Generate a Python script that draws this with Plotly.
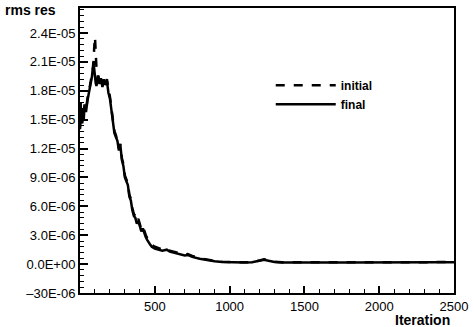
import plotly.graph_objects as go

# iterations and residuals (in units of 1E-06)
iter_early = [0, 5, 10, 15, 20, 25, 30, 40, 50, 60, 70, 80, 90, 95, 100, 105, 110, 120, 130, 140,
              150, 160, 170, 180, 190, 200, 210, 220, 230, 240, 250, 260, 270, 280, 290, 300,
              310, 320, 330, 340, 350, 360, 370, 380, 390, 400, 410, 420, 430, 440, 450, 460,
              470, 480, 490, 500, 550, 580, 600, 650, 700, 720, 750, 800, 850, 900, 950, 1000,
              1050, 1100, 1150, 1200, 1230, 1260, 1300, 1350, 1400, 1500, 1600, 1700, 1800,
              1900, 2000, 2100, 2200, 2300, 2400, 2500]

initial_res = [14.2, 16.8, 15.0, 14.8, 16.2, 15.3, 16.6, 16.0, 17.2, 17.9, 18.8, 19.8, 20.6, 22.5,
               23.6, 22.0, 20.4, 19.8, 18.9, 19.5, 18.6, 19.4, 18.8, 19.2, 18.0, 17.4, 16.2, 15.0,
               13.8, 13.4, 12.6, 12.0, 12.5, 11.0, 10.4, 9.2, 8.8, 8.4, 7.2, 6.8, 5.8, 5.2, 5.0,
               4.4, 4.7, 4.0, 3.6, 3.9, 3.3, 3.0, 2.7, 2.4, 2.2, 2.0, 1.9, 1.8, 1.5, 1.6, 1.4,
               1.2, 1.0, 1.05, 0.85, 0.62, 0.45, 0.33, 0.25, 0.2, 0.18, 0.19, 0.22, 0.38, 0.5,
               0.38, 0.24, 0.2, 0.19, 0.19, 0.2, 0.2, 0.19, 0.2, 0.2, 0.21, 0.2, 0.21, 0.2, 0.21]

final_res = [14.0, 16.5, 15.2, 14.6, 16.0, 15.0, 16.4, 15.8, 17.0, 17.8, 18.6, 19.5, 21.0, 20.2,
             19.0, 18.8, 18.5, 19.6, 18.7, 19.3, 18.4, 19.2, 18.6, 19.0, 17.8, 17.2, 16.0, 14.8,
             13.6, 13.2, 12.8, 11.8, 12.3, 10.8, 10.2, 9.0, 8.6, 8.2, 7.0, 6.6, 5.6, 5.0, 4.8,
             4.2, 4.5, 3.8, 3.4, 3.7, 3.1, 2.8, 2.5, 2.2, 2.0, 1.8, 1.7, 1.6, 1.4, 1.5, 1.3,
             1.1, 0.9, 0.95, 0.75, 0.55, 0.4, 0.3, 0.22, 0.18, 0.16, 0.17, 0.2, 0.35, 0.45,
             0.35, 0.22, 0.18, 0.17, 0.17, 0.18, 0.17, 0.18, 0.17, 0.18, 0.18, 0.19, 0.18, 0.19, 0.2]

y_tick_vals = [-3, 0, 3, 6, 9, 12, 15, 18, 21, 24]
y_tick_text = ["\u201330E-06", "0.0E+00", "3.0E-06", "6.0E-06", "9.0E-06", "1.2E-05",
               "1.5E-05", "1.8E-05", "2.1E-05", "2.4E-05"]
x_tick_vals = [500, 1000, 1500, 2000, 2500]
x_tick_text = ["500", "1000", "1500", "2000", "2500"]

FONT = "Liberation Sans, Arial, sans-serif"

fig = go.Figure()
fig.add_trace(go.Scatter(x=iter_early, y=initial_res, mode="lines", name="<b>initial</b>",
                         line=dict(color="black", width=2.5, dash="dash")))
fig.add_trace(go.Scatter(x=iter_early, y=final_res, mode="lines", name="<b>final</b>",
                         line=dict(color="black", width=2.5)))

fig.update_layout(
    width=474, height=327,
    margin=dict(l=80, r=19, t=6, b=34),
    paper_bgcolor="white", plot_bgcolor="white",
    font=dict(family=FONT, size=13, color="black"),
    showlegend=True,
    legend=dict(x=0.51, y=0.78, xanchor="left", yanchor="top",
                bgcolor="rgba(0,0,0,0)", borderwidth=0, tracegroupgap=0,
                font=dict(family=FONT, size=12, color="black"), itemwidth=60),
    xaxis=dict(range=[0, 2500], tickvals=x_tick_vals, ticktext=x_tick_text,
               ticks="inside", ticklen=7, tickwidth=2, tickcolor="black",
               showline=True, linewidth=2, linecolor="black", mirror=True,
               showgrid=False, zeroline=False,
               minor=dict(dtick=100, ticks="inside", ticklen=4, tickwidth=1, tickcolor="black")),
    yaxis=dict(range=[-3, 26.6], tickvals=y_tick_vals, ticktext=y_tick_text,
               ticks="inside", ticklen=8, tickwidth=2, tickcolor="black",
               showline=True, linewidth=2, linecolor="black", mirror=True,
               showgrid=False, zeroline=False,
               minor=dict(tick0=0, dtick=0.6, ticks="inside", ticklen=4, tickwidth=1, tickcolor="black")),
    annotations=[
        dict(text="<b>rms res</b>", xref="paper", yref="paper", x=0, y=1,
             xanchor="right", yanchor="middle", xshift=-22, yshift=-2, showarrow=False,
             font=dict(family=FONT, size=14, color="black")),
        dict(text="<b>Iteration</b>", xref="paper", yref="paper", x=1, y=0,
             xanchor="right", yanchor="top", xshift=-2, yshift=-17, showarrow=False,
             font=dict(family=FONT, size=14, color="black")),
    ],
)

fig.write_html("out.html")
